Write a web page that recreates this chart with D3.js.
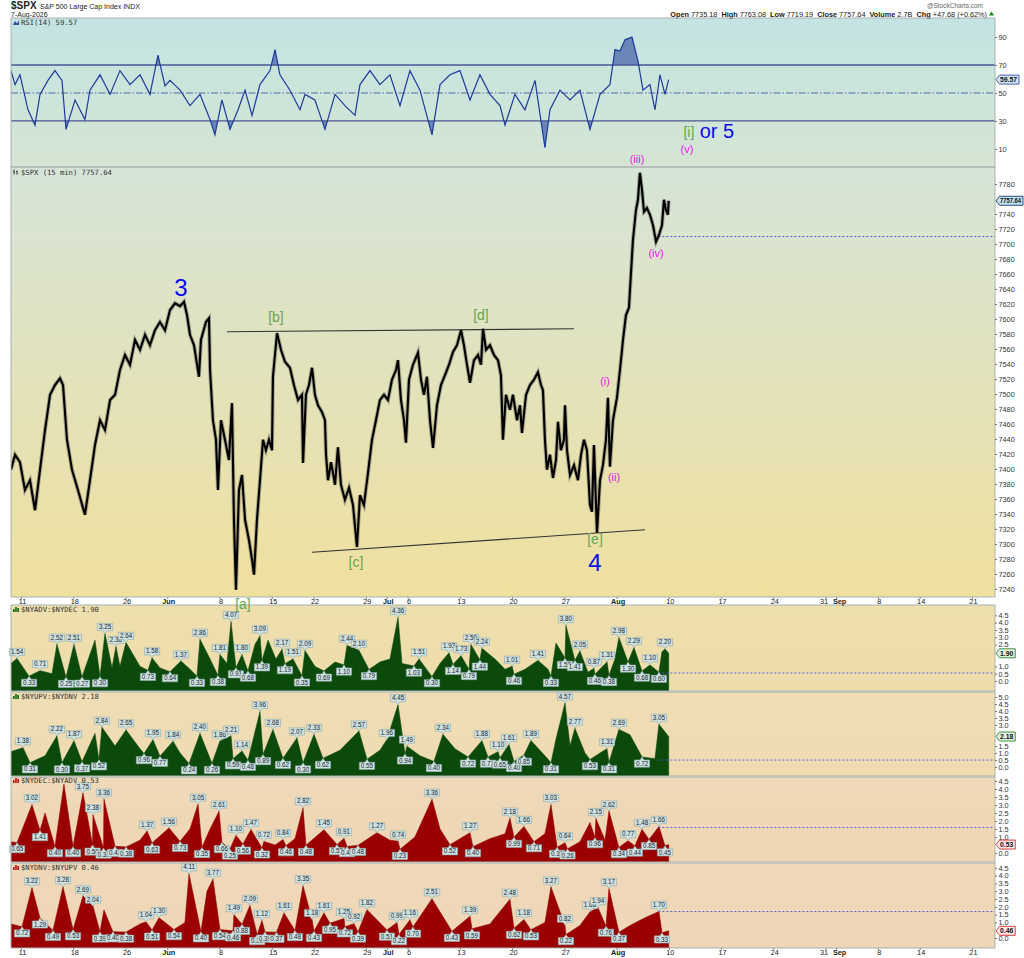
<!DOCTYPE html>
<html><head><meta charset="utf-8">
<script src="https://cdn.jsdelivr.net/npm/d3@7"></script>
<style>body{margin:0;background:#fff;}svg{display:block;font-family:"Liberation Sans",Arial,sans-serif;}</style>
</head><body><svg id="c" width="1024" height="958"></svg>
<script>
// ---------- DATA (t = trading-session index, 0 = 11-May-2026 open) ----------
const priceSeries = [
[-0.96,7399],[-0.57,7419],[-0.10,7409],[0.38,7372],[0.86,7385],[1.34,7345],[1.82,7399],[2.30,7452],[2.78,7499],[3.25,7512],[3.73,7521],[4.02,7512],[4.40,7439],[4.88,7399],[5.45,7372],[6.12,7339],[6.60,7385],[7.08,7432],[7.56,7465],[8.04,7452],[8.52,7492],[9.00,7499],[9.47,7532],[9.95,7552],[10.43,7539],[10.91,7572],[11.39,7559],[11.87,7579],[12.34,7565],[12.82,7585],[13.30,7596],[13.78,7585],[14.26,7612],[14.74,7621],[15.22,7617],[15.60,7623],[15.89,7605],[16.17,7579],[16.56,7565],[17.03,7523],[17.22,7572],[17.70,7596],[17.99,7601],[18.09,7532],[18.37,7465],[18.66,7439],[18.85,7372],[19.14,7465],[19.52,7439],[19.90,7412],[20.19,7488],[20.38,7332],[20.57,7239],[20.86,7372],[21.15,7392],[21.44,7332],[21.82,7305],[22.11,7279],[22.30,7259],[22.58,7332],[22.87,7385],[23.16,7439],[23.44,7425],[23.73,7439],[24.02,7425],[24.11,7523],[24.50,7581],[24.88,7559],[25.26,7543],[25.74,7535],[26.12,7512],[26.51,7492],[26.89,7499],[26.99,7408],[27.27,7499],[27.56,7512],[27.85,7535],[28.13,7499],[28.42,7485],[28.80,7476],[29.09,7465],[29.19,7419],[29.38,7385],[29.67,7409],[30.05,7379],[30.33,7429],[30.62,7379],[31.00,7359],[31.39,7375],[31.77,7352],[32.15,7296],[32.44,7365],[32.82,7352],[33.21,7395],[33.59,7439],[33.97,7465],[34.35,7492],[34.74,7499],[35.12,7492],[35.50,7519],[35.89,7532],[36.08,7545],[36.36,7492],[36.65,7465],[36.84,7435],[37.13,7519],[37.51,7539],[37.99,7555],[38.28,7519],[38.56,7499],[38.85,7523],[39.14,7465],[39.43,7428],[39.81,7485],[40.19,7512],[40.57,7525],[40.96,7539],[41.34,7556],[41.72,7565],[42.11,7585],[42.39,7565],[42.68,7539],[42.97,7515],[43.35,7545],[43.73,7552],[44.02,7539],[44.21,7587],[44.50,7559],[44.88,7565],[45.26,7552],[45.65,7545],[45.93,7525],[46.12,7439],[46.41,7499],[46.79,7479],[47.08,7499],[47.46,7465],[47.75,7485],[47.94,7448],[48.33,7499],[48.71,7512],[49.09,7519],[49.47,7529],[49.76,7512],[49.95,7505],[50.14,7439],[50.33,7399],[50.62,7419],[50.91,7388],[51.20,7412],[51.39,7463],[51.67,7425],[51.96,7439],[52.06,7485],[52.25,7425],[52.54,7392],[52.92,7405],[53.30,7385],[53.59,7419],[53.88,7439],[54.16,7425],[54.45,7352],[54.64,7343],[54.83,7432],[55.12,7315],[55.41,7385],[55.69,7405],[55.98,7439],[56.17,7495],[56.36,7403],[56.65,7465],[57.03,7495],[57.32,7532],[57.61,7572],[57.89,7605],[58.18,7615],[58.28,7639],[58.56,7705],[58.85,7745],[59.04,7759],[59.23,7795],[59.43,7772],[59.62,7743],[59.90,7748],[60.19,7739],[60.48,7725],[60.77,7703],[61.05,7712],[61.34,7725],[61.53,7759],[61.72,7745],[61.91,7739],[61.98,7757.64]
];
const rsiSeries = [
[-0.96,66],[-0.57,56],[-0.10,63],[0.67,38],[1.34,27],[1.82,49],[2.58,59],[3.25,66],[3.92,59],[4.31,24],[5.17,45],[6.12,31],[6.60,52],[7.56,63],[8.52,49],[9.47,66],[10.43,56],[11.39,63],[12.34,49],[13.11,77],[13.78,55],[14.26,59],[15.22,52],[16.17,41],[17.13,49],[18.09,31],[18.56,20],[19.23,45],[20.00,24],[20.77,38],[21.44,52],[22.11,34],[22.87,56],[23.83,66],[24.31,81],[24.78,63],[25.74,52],[26.70,38],[27.18,49],[28.13,45],[29.09,24],[30.05,49],[31.00,41],[31.96,34],[32.44,56],[33.40,66],[34.35,56],[35.31,63],[36.27,41],[37.22,66],[38.18,52],[39.33,20],[40.10,56],[41.05,63],[42.01,66],[42.97,45],[43.92,63],[44.88,49],[45.84,41],[46.32,27],[47.27,49],[48.23,38],[49.19,59],[50.14,11],[50.62,38],[51.58,52],[52.54,45],[53.49,52],[54.45,24],[55.41,49],[56.36,56],[56.84,81],[57.32,80],[57.80,88],[58.47,90],[59.04,73],[59.52,52],[60.19,56],[60.67,38],[61.15,63],[61.63,49],[61.98,59.57]
];
// [t, value, label flag: 1 = high label, -1 = low label, 0 = none]
const advDecSeries = [
[-0.96,1.2,0],[-0.38,1.54,1],[0.77,0.33,-1],[1.82,0.71,1],[2.97,0.5,0],[3.44,2.52,1],[4.31,0.25,-1],[5.07,2.51,1],[5.84,0.27,-1],[7.08,2.8,0],[7.56,0.30,-1],[8.04,3.25,1],[8.71,0.9,0],[9.09,2.36,1],[9.47,1.0,0],[10.05,2.64,1],[11.39,1.0,0],[12.15,0.73,-1],[12.54,1.58,1],[13.30,0.9,0],[14.26,0.64,-1],[15.31,1.37,1],[16.17,0.8,0],[16.84,0.33,-1],[17.13,2.86,1],[18.09,1.5,0],[18.85,0.38,-1],[19.04,1.81,1],[19.71,1.2,0],[20.10,4.07,1],[20.57,0.91,-1],[21.15,1.80,1],[21.72,0.68,-1],[22.39,2.5,0],[22.87,3.09,1],[23.06,1.39,-1],[23.64,2.8,0],[24.40,1.5,0],[24.98,2.17,1],[25.26,1.19,-1],[26.03,1.51,1],[26.89,0.35,-1],[27.18,2.09,1],[28.13,1.0,0],[28.99,0.69,-1],[30.05,1.3,0],[30.91,1.10,-1],[31.20,2.44,1],[32.34,2.10,1],[33.30,0.79,-1],[34.35,1.3,0],[35.31,1.5,0],[36.08,4.36,1],[36.46,1.2,0],[37.61,1.03,-1],[38.09,1.51,1],[39.33,0.30,-1],[40.10,1.2,0],[40.96,1.93,1],[41.34,1.14,-1],[42.11,1.73,1],[42.87,0.79,-1],[43.06,2.50,1],[43.92,1.44,-1],[44.11,2.24,1],[45.36,1.5,0],[46.32,0.8,0],[47.00,1.01,1],[47.18,0.46,-1],[48.23,0.8,0],[49.47,1.41,1],[50.43,0.8,0],[50.72,0.33,-1],[51.20,2.6,0],[52.06,1.56,-1],[52.15,3.80,1],[53.01,1.41,-1],[53.49,2.05,1],[54.26,0.6,0],[54.83,0.87,1],[54.93,0.46,-1],[56.08,1.31,1],[56.27,0.38,-1],[56.84,1.5,0],[57.22,2.98,1],[58.09,1.30,-1],[58.66,2.29,1],[59.43,0.68,-1],[60.19,1.10,1],[61.05,0.60,-1],[61.34,2.0,0],[61.63,2.20,1],[61.98,1.90,0]
];
const upDnVolSeries = [
[-0.96,1.1,0],[0.19,1.38,1],[0.86,0.31,-1],[2.30,0.8,0],[3.44,2.22,1],[3.92,0.30,-1],[5.07,1.87,1],[5.84,0.37,-1],[7.08,2.4,0],[7.46,0.52,-1],[7.75,2.84,1],[9.00,1.5,0],[10.05,2.65,1],[11.39,1.3,0],[11.77,0.96,-1],[12.63,1.95,1],[13.30,0.77,-1],[14.55,1.84,1],[15.22,1.0,0],[16.08,0.24,-1],[17.13,2.40,1],[17.61,1.5,0],[18.28,0.26,-1],[19.04,1.86,1],[20.10,2.21,1],[20.29,0.59,-1],[21.15,1.14,1],[21.72,0.48,-1],[22.39,2.5,0],[22.87,3.96,1],[23.16,0.89,-1],[24.11,2.68,1],[25.07,0.62,-1],[26.41,2.07,1],[26.99,0.30,-1],[28.04,2.33,1],[28.90,0.62,-1],[30.53,1.2,0],[32.34,2.57,1],[33.11,0.55,-1],[34.35,1.2,0],[35.02,1.96,1],[36.08,4.45,1],[36.75,0.94,-1],[36.94,1.49,1],[38.18,0.8,0],[39.52,0.40,-1],[40.38,2.34,1],[41.53,1.3,0],[42.78,0.72,-1],[44.11,1.88,1],[44.69,0.71,-1],[45.65,1.10,1],[45.84,0.65,-1],[46.70,1.61,1],[47.18,0.40,-1],[48.13,0.85,-1],[48.80,1.89,1],[50.14,0.8,0],[50.72,0.31,-1],[51.20,2.0,0],[52.06,4.57,1],[52.54,1.5,0],[53.01,2.77,1],[53.97,1.0,0],[54.45,0.53,-1],[55.41,1.0,0],[56.08,1.31,1],[56.27,0.31,-1],[57.22,2.69,1],[58.28,2.3,0],[59.43,0.72,-1],[60.67,0.6,0],[61.05,3.05,1],[61.98,2.18,0]
];
const decAdvSeries = [
[-0.96,0.7,0],[-0.38,0.65,-1],[1.05,3.02,1],[1.82,1.41,-1],[2.30,2.5,0],[3.25,0.40,-1],[4.11,4.3,0],[4.98,0.40,-1],[5.93,3.75,1],[6.85,0.50,-1],[6.89,2.38,1],[7.90,0.31,-1],[7.94,3.36,1],[9.00,0.42,-1],[10.05,0.38,-1],[11.39,0.8,0],[12.06,1.37,1],[12.54,0.63,-1],[14.16,1.56,1],[15.22,0.73,-1],[16.17,1.5,0],[16.94,3.05,1],[17.32,0.35,-1],[18.09,1.5,0],[18.95,2.61,1],[19.23,0.66,-1],[20.00,0.25,-1],[20.57,1.10,1],[21.24,0.56,-1],[22.01,1.47,1],[23.06,0.32,-1],[23.25,0.72,1],[24.31,0.5,0],[25.07,0.84,1],[25.36,0.46,-1],[26.22,0.9,0],[26.99,2.82,1],[27.27,0.48,-1],[28.99,1.45,1],[30.24,0.53,-1],[30.91,0.91,1],[31.20,0.41,-1],[32.25,0.48,-1],[34.07,1.27,1],[35.31,0.8,0],[36.08,0.74,1],[36.27,0.23,-1],[37.70,1.0,0],[39.33,3.36,1],[40.10,1.5,0],[41.05,0.52,-1],[42.97,1.27,1],[43.25,0.40,-1],[44.88,0.9,0],[46.32,1.2,0],[46.79,2.18,1],[47.18,0.99,-1],[48.13,1.66,1],[49.09,0.71,-1],[50.14,1.2,0],[50.72,3.03,1],[51.30,0.36,-1],[52.06,0.64,1],[52.30,0.26,-1],[53.49,0.7,0],[54.45,1.9,0],[54.93,0.96,-1],[55.02,2.15,1],[55.89,0.8,0],[56.27,2.62,1],[57.22,0.34,-1],[58.09,0.77,1],[58.75,0.44,-1],[59.43,1.48,1],[60.10,0.85,-1],[61.05,1.66,1],[61.63,0.45,-1],[61.98,0.53,0]
];
const dnUpVolSeries = [
[-0.96,0.9,0],[0.10,0.72,-1],[1.05,3.22,1],[1.82,1.29,-1],[3.06,0.49,-1],[4.02,3.28,1],[4.98,0.53,-1],[5.93,2.69,1],[6.89,2.04,1],[7.56,0.39,-1],[7.94,1.8,0],[8.80,0.40,-1],[10.05,0.38,-1],[11.39,0.9,0],[11.96,1.04,1],[12.54,0.51,-1],[13.21,1.30,1],[14.64,0.54,-1],[15.69,1.0,0],[16.08,4.11,1],[17.22,0.40,-1],[17.80,3.0,0],[18.37,3.77,1],[19.04,0.54,-1],[20.29,0.46,-1],[20.38,1.49,1],[21.15,0.88,-1],[21.91,2.09,1],[22.60,0.22,-1],[23.06,1.12,1],[23.35,0.39,-1],[24.45,0.37,-1],[25.17,1.61,1],[26.22,0.48,-1],[26.99,3.35,1],[27.85,1.18,1],[28.04,0.43,-1],[28.99,1.61,1],[29.57,0.95,-1],[30.91,1.25,1],[31.00,0.72,-1],[31.87,0.92,1],[32.25,0.39,-1],[33.11,1.82,1],[35.02,0.51,-1],[35.98,0.99,1],[36.17,0.22,-1],[37.22,1.16,1],[37.51,0.70,-1],[39.33,2.51,1],[41.24,0.43,-1],[42.97,1.39,1],[43.16,0.59,-1],[44.88,0.9,0],[46.79,2.48,1],[47.18,0.62,-1],[48.13,1.18,1],[48.80,0.53,-1],[50.14,1.0,0],[50.72,3.27,1],[52.06,0.82,1],[52.15,0.22,-1],[53.49,0.8,0],[54.45,1.68,1],[55.22,1.94,1],[55.98,0.76,-1],[56.27,3.17,1],[57.22,0.37,-1],[58.28,0.8,0],[59.71,1.3,0],[61.05,1.70,1],[61.34,0.33,-1],[61.98,0.46,0]
];
const xTicks = [[0,"11"],[5,"18"],[10,"26"],[14,"Jun"],[19,"8"],[24,"15"],[28,"22"],[33,"29"],[35,"Jul"],[37,"6"],[42,"13"],[47,"20"],[52,"27"],[57,"Aug"],[62,"10"],[67,"17"],[72,"24"],[77,"31"],[78,"Sep"],[82,"8"],[86,"14"],[91,"21"]];
const priceTicks = [7780,7760,7740,7720,7700,7680,7660,7640,7620,7600,7580,7560,7540,7520,7500,7480,7460,7440,7420,7400,7380,7360,7340,7320,7300,7280,7260,7240];
const rsiTicks = [90,70,50,30,10];
const rsiLevels = [70,30];
const ratioTicks45 = [0,0.5,1,1.5,2,2.5,3,3.5,4,4.5];
const ratioTicks50 = [0,0.5,1,1.5,2,2.5,3,3.5,4,4.5,5];
const lastValues = {rsi:59.57, price:7757.64, prevClose:7709.96, a:1.90, b:2.18, c:0.53, d:0.46};
const prevCloses = {a:0.55, b:0.50, c:1.60, d:1.70};
const resistance = [[19.71,7583],[52.92,7587]];
const support = [[27.85,7289],[59.71,7319]];
const waveLabels = [
 {txt:"3",t:15.31,v:7631,k:"big"},{txt:"4",t:54.93,v:7264,k:"big"},
 {txt:"[b]",t:24.4,v:7596,k:"g"},{txt:"[d]",t:44.02,v:7599,k:"g"},{txt:"[c]",t:32.06,v:7269,k:"g"},{txt:"[e]",t:54.93,v:7300,k:"g"},{txt:"[a]",t:21.24,v:7213,k:"g"},
 {txt:"(i)",t:55.89,v:7512,k:"m"},{txt:"(ii)",t:56.75,v:7384,k:"m"},{txt:"(iii)",t:58.95,v:7808,k:"m"},{txt:"(iv)",t:60.77,v:7683,k:"m"},{txt:"(v)",t:63.73,v:7821,k:"m"},
 {txt:"[i]",t:63.92,v:7843,k:"g"}
];

// ---------- LAYOUT ----------
const svg = d3.select('#c');
const X0=11, X1=995;
const x = d3.scaleLinear().domain([-0.957,93.21]).range([X0,X1]);
const P = {
 rsi:{top:18,bottom:167,dom:[-2.9,103.6]},
 main:{top:167,bottom:597,dom:[7229.3,7802.7]},
 a:{top:605,bottom:691,dom:[-0.685,5.21]},
 b:{top:692,bottom:776,dom:[-0.64,5.36]},
 c:{top:777,bottom:862,dom:[-0.56,4.75]},
 d:{top:863,bottom:948,dom:[-0.64,4.81]}
};
for (const k in P){ P[k].y = d3.scaleLinear().domain(P[k].dom).range([P[k].bottom,P[k].top]); }
const defs = svg.append('defs');
function grad(id,c0,c1){const g=defs.append('linearGradient').attr('id',id).attr('x1',0).attr('y1',0).attr('x2',0).attr('y2',1);g.append('stop').attr('offset',0).attr('stop-color',c0);g.append('stop').attr('offset',1).attr('stop-color',c1);}
grad('gRsi','#c3e4e3','#d5e5d3');
grad('gMain','#d6e5d8','#f0e09e');
grad('gA','#eedfae','#efddab');
grad('gB','#f0ddb4','#efdbb0');
grad('gC','#efd9b8','#efd6b4');
grad('gD','#efd8b9','#efd6b6');
const fills={rsi:'url(#gRsi)',main:'url(#gMain)',a:'url(#gA)',b:'url(#gB)',c:'url(#gC)',d:'url(#gD)'};
for (const k in P){
  defs.append('clipPath').attr('id','clip-'+k).append('rect').attr('x',X0).attr('y',P[k].top).attr('width',X1-X0).attr('height',P[k].bottom-P[k].top);
  svg.append('rect').attr('x',X0).attr('y',P[k].top).attr('width',X1-X0).attr('height',P[k].bottom-P[k].top).attr('fill',fills[k]);
}

// ---------- HEADER ----------
const hdr = svg.append('g').attr('fill','#222');
hdr.append('text').attr('x',11).attr('y',9).attr('font-size',10).attr('font-weight','bold').text('$SPX');
hdr.append('text').attr('x',40).attr('y',9).attr('font-size',7).text('S&P 500 Large Cap Index  INDX');
hdr.append('text').attr('x',11).attr('y',17).attr('font-size',7).text('7-Aug-2026');
hdr.append('text').attr('x',983).attr('y',8).attr('font-size',6.5).attr('fill','#666').attr('text-anchor','end').text('@StockCharts.com');
const ohlc = hdr.append('text').attr('x',987).attr('y',16.5).attr('font-size',7.3).attr('text-anchor','end');
[['Open',' 7735.18  '],['High',' 7763.08  '],['Low',' 7719.19  '],['Close',' 7757.64  '],['Volume',' 2.7B  '],['Chg',' +47.68 (+0.62%)']].forEach(p=>{
  ohlc.append('tspan').attr('font-weight','bold').text(p[0]);
  ohlc.append('tspan').attr('xml:space','preserve').text(p[1]);
});
svg.append('path').attr('d','M989,15.5 l2.5,-4 l2.5,4z').attr('fill','#0a8a0a');

// ---------- RSI ----------
const yR = P.rsi.y;
const gR = svg.append('g').attr('clip-path','url(#clip-rsi)');
defs.append('clipPath').attr('id','clipOB').append('rect').attr('x',X0).attr('y',P.rsi.top).attr('width',X1-X0).attr('height',yR(70)-P.rsi.top);
defs.append('clipPath').attr('id','clipOS').append('rect').attr('x',X0).attr('y',yR(30)).attr('width',X1-X0).attr('height',P.rsi.bottom-yR(30));
gR.append('path').datum(rsiSeries).attr('clip-path','url(#clipOB)').attr('fill','#6a86b6')
  .attr('d',d3.area().x(d=>x(d[0])).y0(yR(70)).y1(d=>yR(d[1])));
gR.append('path').datum(rsiSeries).attr('clip-path','url(#clipOS)').attr('fill','#6a86b6')
  .attr('d',d3.area().x(d=>x(d[0])).y0(yR(30)).y1(d=>yR(d[1])));
rsiLevels.forEach(l=>gR.append('line').attr('x1',X0).attr('x2',X1).attr('y1',yR(l)).attr('y2',yR(l)).attr('stroke','#4a5694').attr('stroke-width',1.3));
gR.append('line').attr('x1',X0).attr('x2',X1).attr('y1',yR(50)).attr('y2',yR(50)).attr('stroke','#5a6aa8').attr('stroke-width',1).attr('stroke-dasharray','7,2,1.5,2');
gR.append('path').datum(rsiSeries).attr('fill','none').attr('stroke','#1f3a9c').attr('stroke-width',1.2)
  .attr('d',d3.line().x(d=>x(d[0])).y(d=>yR(d[1])));

// ---------- MAIN ----------
const yM = P.main.y;
const gM = svg.append('g').attr('clip-path','url(#clip-main)');
[resistance,support].forEach(s=>gM.append('line').attr('x1',x(s[0][0])).attr('y1',yM(s[0][1])).attr('x2',x(s[1][0])).attr('y2',yM(s[1][1])).attr('stroke','#333').attr('stroke-width',1.2));
gM.append('line').attr('x1',x(61)).attr('x2',X1).attr('y1',yM(lastValues.prevClose)).attr('y2',yM(lastValues.prevClose)).attr('stroke','#3344ee').attr('stroke-width',0.9).attr('stroke-dasharray','2,2');
const priceLine = d3.line().x(d=>x(d[0])).y(d=>yM(d[1]));
gM.append('path').datum(priceSeries).attr('fill','none').attr('stroke','#333').attr('stroke-opacity',0.35).attr('stroke-width',4).attr('d',priceLine);
gM.append('path').datum(priceSeries).attr('fill','none').attr('stroke','#000').attr('stroke-width',2.1).attr('stroke-linejoin','miter').attr('d',priceLine);

// ---------- BREADTH PANELS ----------
function addLabel(g,px,py,txt,isHigh){
  const grp=g.append('g');
  const shape=grp.append('path');
  const t=grp.append('text').attr('font-size',6.3).attr('fill','#223').attr('text-anchor','middle').text(txt);
  const w=t.node().getComputedTextLength()+3, h=7.2;
  const by = isHigh ? py-3-h : py+3;
  const d = isHigh ? `M${px-w/2},${by}h${w}v${h}h${-(w/2-2)}l-2,3l-2,-3h${-(w/2-2)}z`
                   : `M${px-w/2},${by}h${w/2-2}l2,-3l2,3h${w/2-2}v${h}h${-w}z`;
  shape.attr('d',d).attr('fill','#cde2e1').attr('stroke','#8fa9a9').attr('stroke-width',0.6);
  t.attr('x',px).attr('y',by+h-1.5);
}
function breadth(key,series,color,prev){
  const p=P[key], y=p.y;
  const g=svg.append('g').attr('clip-path','url(#clip-'+key+')');
  g.append('path').datum(series).attr('fill',color).attr('stroke',color).attr('stroke-width',0.6)
    .attr('d',d3.area().x(d=>x(d[0])).y0(p.bottom).y1(d=>y(d[1])));
  g.append('line').attr('x1',x(61)).attr('x2',X1).attr('y1',y(prev)).attr('y2',y(prev)).attr('stroke','#4455ee').attr('stroke-width',0.9).attr('stroke-dasharray','2,2');
  const lg=svg.append('g');
  series.filter(d=>d[2]!==0).forEach(d=>addLabel(lg,x(d[0]),y(d[1]),d[1].toFixed(2),d[2]>0));
}
breadth('a',advDecSeries,'#0b4a0b',prevCloses.a);
breadth('b',upDnVolSeries,'#0b4a0b',prevCloses.b);
breadth('c',decAdvSeries,'#9a0000',prevCloses.c);
breadth('d',dnUpVolSeries,'#9a0000',prevCloses.d);

// ---------- PANEL BORDERS ----------
for (const k in P){ svg.append('rect').attr('x',X0).attr('y',P[k].top).attr('width',X1-X0).attr('height',P[k].bottom-P[k].top).attr('fill','none').attr('stroke','#a9b2b0').attr('stroke-width',1); }

// ---------- AXES ----------
const tagValue = {rsi:lastValues.rsi, main:lastValues.price, a:lastValues.a, b:lastValues.b, c:lastValues.c, d:lastValues.d};
function yAxis(key,ticks,fmt){
  const ys=P[key].y, ty=ys(tagValue[key]);
  const shown = ticks.filter(v=>Math.abs(ys(v)-ty)>6.5);
  const g=svg.append('g').attr('transform',`translate(${X1},0)`).call(d3.axisRight(ys).tickValues(shown).tickSize(2).tickPadding(1.5).tickFormat(fmt));
  g.select('.domain').remove();
  g.selectAll('text').attr('font-size',7.3).attr('fill','#333').attr('font-family','Liberation Sans, Arial');
  g.selectAll('line').attr('stroke','#777');
}
yAxis('rsi',rsiTicks,d3.format('d'));
yAxis('main',priceTicks,d3.format('d'));
yAxis('a',ratioTicks45,d3.format('.1f'));
yAxis('b',ratioTicks50,d3.format('.1f'));
yAxis('c',ratioTicks45,d3.format('.1f'));
yAxis('d',ratioTicks45,d3.format('.1f'));
const tickName = new Map(xTicks.map(d=>[d[0],d[1]]));
function xAxis(yPos){
  const g=svg.append('g').attr('transform',`translate(0,${yPos})`).call(d3.axisBottom(x).tickValues(xTicks.map(d=>d[0])).tickSize(2).tickPadding(0).tickFormat(d=>tickName.get(d)));
  g.select('.domain').remove();
  g.selectAll('line').attr('stroke','#888');
  g.selectAll('text').attr('font-size',7.3).attr('fill','#222').attr('font-family','Liberation Sans, Arial')
    .attr('font-weight',d=>/[A-Za-z]/.test(tickName.get(d))?'bold':'normal').attr('dx',d=>d===77?-2:(d===78?3:1));
}
xAxis(P.main.bottom);
xAxis(P.d.bottom);

// ---------- VALUE TAGS ----------
function tag(y,txt,fill,stroke){
  const g=svg.append('g');
  const shape=g.append('path');
  const t=g.append('text').attr('x',X1+5).attr('y',y+2.4).attr('font-size',6.8).attr('font-weight','bold').attr('fill','#111').text(txt);
  const maxW=1023-(X1+4.5);
  const tw=t.node().getComputedTextLength();
  const w=Math.min(tw+2.5,maxW);
  if (tw+2.5>maxW) t.attr('textLength',w-2.5).attr('lengthAdjust','spacingAndGlyphs');
  shape.attr('d',`M${X1+1},${y} l3.5,-4.5 h${w} v9 h${-w}z`).attr('fill',fill).attr('stroke',stroke).attr('stroke-width',0.9);
}
tag(yR(lastValues.rsi),lastValues.rsi.toFixed(2),'#cfe3f3','#3b55b0');
tag(yM(lastValues.price),lastValues.price.toFixed(2),'#bfe0ee','#1a3a70');
tag(P.a.y(lastValues.a),lastValues.a.toFixed(2),'#e0f0e0','#2b8a2b');
tag(P.b.y(lastValues.b),lastValues.b.toFixed(2),'#e0f0e0','#2b8a2b');
tag(P.c.y(lastValues.c),lastValues.c.toFixed(2),'#fde8e8','#d03030');
tag(P.d.y(lastValues.d),lastValues.d.toFixed(2),'#fde8e8','#d03030');

// ---------- PANEL TITLES ----------
function title(yPos,txt,iconColor,type){
  const g=svg.append('g');
  if(type==='line'){ g.append('path').attr('d',`M13,${yPos} l2,-4 l2,2.5 l2,-3.5 v5z`).attr('fill',iconColor); }
  else if(type==='bars'){ [0,2.2,4.4].forEach((o,i)=>g.append('rect').attr('x',13+o).attr('y',yPos-[3,5,4][i]).attr('width',1.6).attr('height',[3,5,4][i]).attr('fill',iconColor)); }
  else { g.append('path').attr('d',`M14,${yPos-5}v5M13,${yPos-3.5}h1M14,${yPos-2}h1M17,${yPos-4}v4M16,${yPos-3}h1M17,${yPos-1.5}h1`).attr('stroke',iconColor).attr('stroke-width',0.8); }
  g.append('text').attr('x',21).attr('y',yPos).attr('font-size',7.2).attr('font-family','DejaVu Sans Mono, monospace').attr('fill','#333').text(txt);
}
title(25,'RSI(14) 59.57','#3050b0','line');
title(174.5,'$SPX (15 min) 7757.64','#222','tick');
title(612,'$NYADV:$NYDEC 1.90','#0b6a0b','bars');
title(699,'$NYUPV:$NYDNV 2.18','#0b6a0b','bars');
title(783,'$NYDEC:$NYADV 0.53','#c01010','bars');
title(870,'$NYDNV:$NYUPV 0.46','#c01010','bars');

// ---------- WAVE ANNOTATIONS ----------
const styles={big:{c:'#0a0aee',s:24},g:{c:'#63a752',s:14},m:{c:'#ee10ee',s:11}};
waveLabels.forEach(w=>svg.append('text').attr('x',x(w.t)).attr('y',yM(w.v)).attr('text-anchor','middle')
  .attr('font-size',styles[w.k].s).attr('fill',styles[w.k].c).text(w.txt));
svg.append('text').attr('x',x(64.95)).attr('y',yM(7841)).attr('font-size',20).attr('fill','#0a0aee').text('or 5');
</script></body></html>
